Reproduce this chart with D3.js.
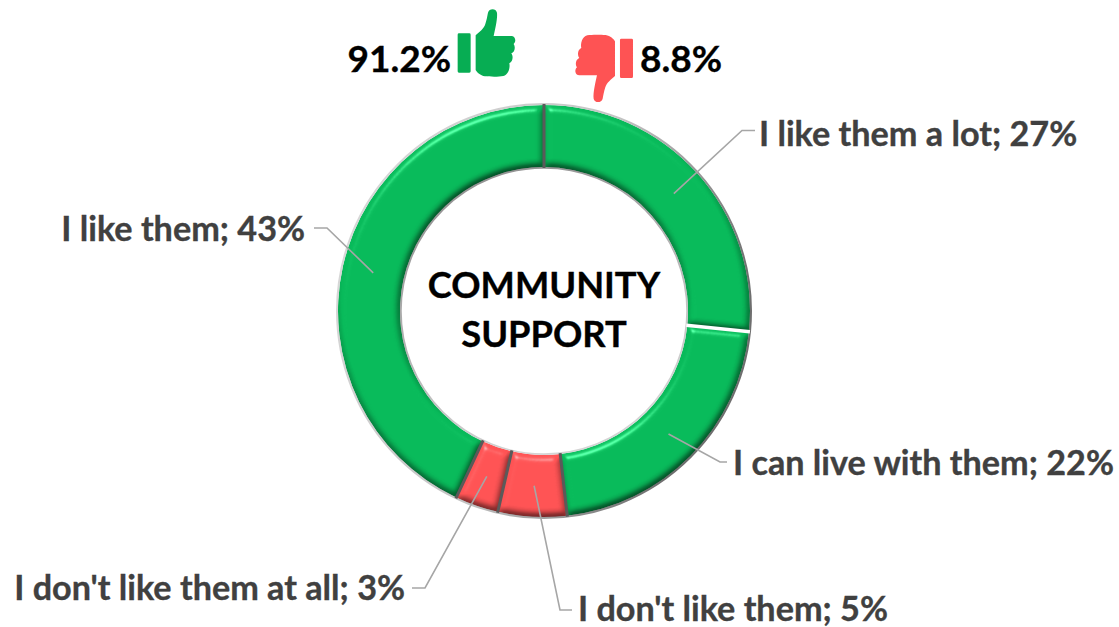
<!DOCTYPE html>
<html>
<head>
<meta charset="utf-8">
<style>
html,body{margin:0;padding:0;background:#fff}
svg{display:block}
text{font-family:Lato,"Open Sans",sans-serif;font-weight:700;stroke:currentColor;stroke-width:.35px}
</style>
<script src="https://cdn.jsdelivr.net/npm/d3@7/dist/d3.min.js"></script>
</head>
<body>
<svg id="chart" width="1119" height="627"></svg>
<script>
// Survey answers in ring order, clockwise from twelve o'clock
const answers = ["I like them a lot","I can live with them","I don't like them","I don't like them at all","I like them"];
const shares = [26.6,21.6,5.4,3.4,43.0];
const sentiment = ["pro","pro","con","con","pro"];
const titleLines = ["COMMUNITY","SUPPORT"];

// Callout text anchors and elbow joints for each answer
const labelAnchors = [[759,146,"start"],[733,475,"start"],[578,621,"start"],[405,600,"end"],[305,241,"end"]];
const elbows = [[742,130.5,755],[720,462,727],[560,610,572],[425,588,412],[327,228,314]];

const W = 1119, H = 627, cx = 544, cy = 311, rOuter = 206, rInner = 144;
const colors = {pro:"#08BA5A", con:"#FE5354"};
const svg = d3.select("#chart");
const defs = svg.append("defs");

// Raised-edge lighting shared by every ring segment
const bevel = defs.append("filter").attr("id","bevel")
  .attr("x","-5%").attr("y","-5%").attr("width","110%").attr("height","110%")
  .attr("color-interpolation-filters","sRGB");
bevel.append("feGaussianBlur").attr("in","SourceAlpha").attr("stdDeviation",3.6).attr("result","soft");
const diffuse = bevel.append("feDiffuseLighting").attr("in","soft").attr("surfaceScale",3.4)
  .attr("diffuseConstant",1.155).attr("lighting-color","#fff").attr("result","shade");
diffuse.append("feDistantLight").attr("azimuth",250).attr("elevation",60);
bevel.append("feBlend").attr("in","SourceGraphic").attr("in2","shade").attr("mode","multiply").attr("result","shaded");
const spec = bevel.append("feSpecularLighting").attr("in","soft").attr("surfaceScale",6)
  .attr("specularConstant",0.55).attr("specularExponent",30).attr("lighting-color","#fff").attr("result","shine");
spec.append("feDistantLight").attr("azimuth",250).attr("elevation",30);
bevel.append("feComposite").attr("in","shine").attr("in2","SourceAlpha").attr("operator","in").attr("result","shineIn");
bevel.append("feComposite").attr("in","shaded").attr("in2","shineIn").attr("operator","arithmetic")
  .attr("k1",0).attr("k2",1).attr("k3",0.6).attr("k4",0).attr("result","lit");
bevel.append("feComposite").attr("in","lit").attr("in2","SourceAlpha").attr("operator","in");

// Rim gradients: the outer edge darkens to the right, the inner one to the upper left
const rimOuter = defs.append("linearGradient").attr("id","rimOuter").attr("x1","0").attr("y1","0").attr("x2","1").attr("y2","0.4");
rimOuter.append("stop").attr("offset","0").attr("stop-color","#dcdcdc");
rimOuter.append("stop").attr("offset","0.6").attr("stop-color","#c4c4c4");
rimOuter.append("stop").attr("offset","1").attr("stop-color","#6e6e6e");
const rimInner = defs.append("linearGradient").attr("id","rimInner").attr("x1","0").attr("y1","0").attr("x2","0.4").attr("y2","1");
rimInner.append("stop").attr("offset","0").attr("stop-color","#8a8a8a");
rimInner.append("stop").attr("offset","1").attr("stop-color","#d4d4d4");

const ring = svg.append("g").attr("transform",`translate(${cx},${cy})`);
const pie = d3.pie().sort(null).value(d => d)(shares);
const arc = d3.arc().innerRadius(rInner).outerRadius(rOuter);

ring.append("circle").attr("r",rOuter+0.5).attr("fill","none").attr("stroke","url(#rimOuter)").attr("stroke-width",3);
ring.append("circle").attr("r",rInner-0.5).attr("fill","none").attr("stroke","url(#rimInner)").attr("stroke-width",2.5);

ring.selectAll("path.segment").data(pie).join("path")
  .attr("class","segment")
  .attr("d",arc)
  .attr("fill",(d,i) => colors[sentiment[i]])
  .attr("filter","url(#bevel)");

// Segment dividers; the first boundary is a pale gap, the rest are dark seams
ring.selectAll("line.divider").data(pie).join("line")
  .attr("class","divider")
  .each(function(d){
    const a = d3.pointRadial(d.endAngle, rInner-1), b = d3.pointRadial(d.endAngle, rOuter+1);
    d3.select(this).attr("x1",a[0]).attr("y1",a[1]).attr("x2",b[0]).attr("y2",b[1]);
  })
  .attr("stroke",(d,i) => i===0 ? "#ffffff" : "#5a5a5a")
  .attr("stroke-width",(d,i) => i===0 ? 3.5 : 3);

// Leader lines run from the middle of each segment to its label
const leader = svg.append("g").attr("fill","none").attr("stroke","#a6a6a6").attr("stroke-width",1.6);
pie.forEach((d,i) => {
  const c = arc.centroid(d), e = elbows[i];
  leader.append("path").attr("d", d3.line()([[cx+c[0],cy+c[1]],[e[0],e[1]],[e[2],e[1]]]));
});

const fmtShare = d3.format(".0f");
svg.append("g").selectAll("text").data(pie).join("text")
  .attr("x",(d,i) => labelAnchors[i][0])
  .attr("y",(d,i) => labelAnchors[i][1])
  .attr("text-anchor",(d,i) => labelAnchors[i][2])
  .attr("font-size",34.2)
  .attr("fill","#404040")
  .style("color","#404040")
  .text((d,i) => `${answers[i]}; ${fmtShare(shares[i])}%`);

svg.append("g").selectAll("text").data(titleLines).join("text")
  .attr("x",cx).attr("y",(d,i) => 298+i*49)
  .attr("text-anchor","middle").attr("font-size",36.3).attr("fill","#000").style("color","#000").text(d => d);

// Headline totals
const proTotal = d3.sum(shares.filter((v,i) => sentiment[i]==="pro"));
const conTotal = d3.sum(shares.filter((v,i) => sentiment[i]==="con"));
const fmtTotal = d3.format(".1f");
svg.append("text").attr("x",451).attr("y",72).attr("text-anchor","end").attr("font-size",37).attr("fill","#000").style("color","#000").text(fmtTotal(proTotal)+"%");
svg.append("text").attr("x",640).attr("y",72).attr("text-anchor","start").attr("font-size",37).attr("fill","#000").style("color","#000").text(fmtTotal(conTotal)+"%");

// Thumb icon: cuff plus hand, flipped half a turn for the negative total
const thumb = "M383 104Q383 100 387 100L418 100Q422 100 422 104L422 214Q422 218 418 218L387 218Q383 218 383 214Z"
  + "M437 106C448 96 462 86 466 72C470 60 472 48 474 38C477 25 498 24 501 38C503 55 496 85 491 108L544 108C556 108 560 124 551 132C557 140 555 156 544 160C551 170 548 186 538 190C541 202 536 224 520 228C505 231 480 230 465 229C450 226 442 218 437 210Z";
svg.append("path").attr("d",thumb).attr("fill","#07AD53")
  .attr("transform","translate(330,0) scale(0.3333)");
svg.append("path").attr("d",thumb).attr("fill","#FE5354")
  .attr("transform","translate(330,0) scale(0.3333) rotate(180 646 167)");
</script>
</body>
</html>
